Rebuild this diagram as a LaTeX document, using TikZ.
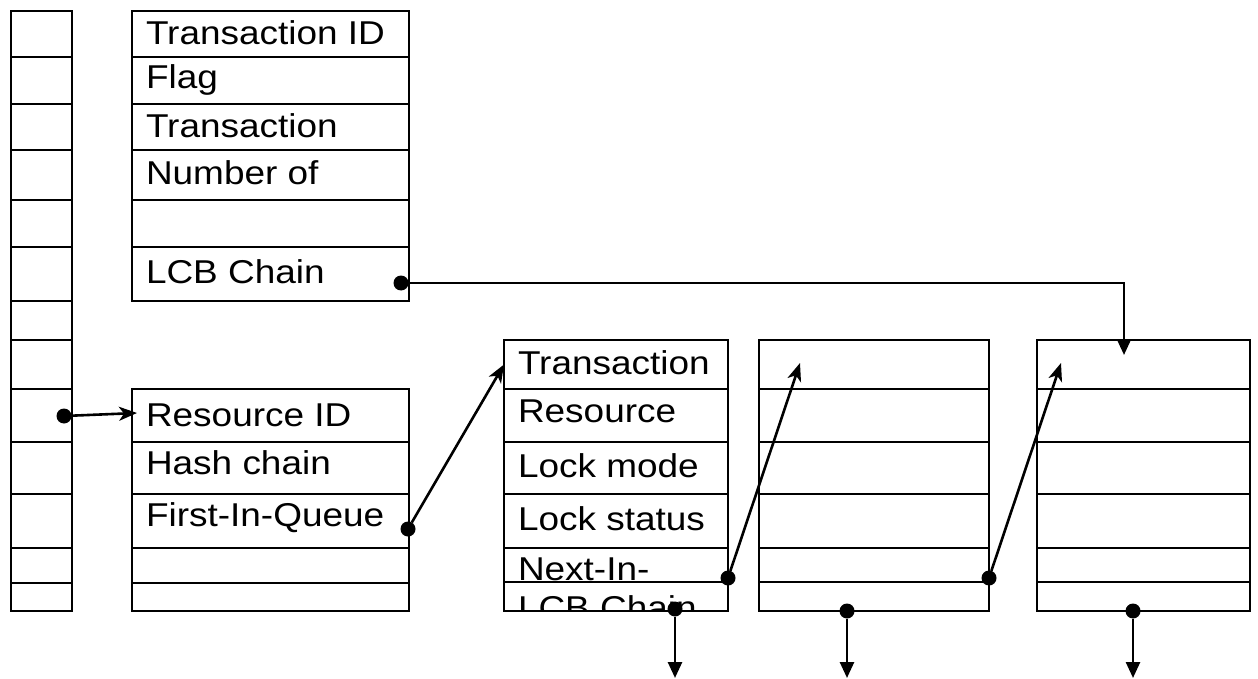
\documentclass[tikz,border=0pt]{standalone}
\usepackage{fontspec}
\setmainfont{Liberation Sans}[FakeStretch=1.12]
\usetikzlibrary{arrows.meta}

\tikzset{
  cell/.style={draw, line width=2.6pt, inner sep=0pt, outer sep=0pt, anchor=north west},
  lbl/.style={anchor=base west, inner sep=0pt, outer sep=0pt, font=\fontsize{33}{39}\selectfont},
  dot/.style={circle, fill=black, inner sep=0pt, outer sep=0pt, minimum size=15pt},
  link/.style={line width=2.6pt, -{Stealth[length=18pt,width=14pt,inset=5pt]}},
  drop/.style={line width=2.6pt, -{Triangle[length=16pt,width=14pt]}},
}

% a vertical stack of cells: prefix, left x, width, list of top/bottom edges
\newcommand\cellstack[4]{%
  \foreach \ya/\yb [count=\k] in {#4} {
    \node[cell, minimum width=#3pt, minimum height={(\yb-\ya)*1pt}] (#1\k) at (#2,\ya) {};
  }%
}

\begin{document}
\begin{tikzpicture}[x=1pt, y=-1pt]
\useasboundingbox (0,0) rectangle (1258,679);

% hash table
\cellstack{h}{11}{61}{11/57,57/104,104/150,150/200,200/247,247/301,301/340,340/389,389/442,442/494,494/548,548/583,583/611}

% transaction control block
\cellstack{t}{132}{277}{11/57,57/104,104/150,150/200,200/247,247/301}
\node[lbl] (t1txt) at (146,45)  {Transaction ID};
\node[lbl] (t2txt) at (146,89)  {Flag};
\node[lbl] (t3txt) at (146,138) {Transaction};
\node[lbl] (t4txt) at (146,185) {Number of};
\node[lbl] (t6txt) at (146,283) {LCB Chain};

% resource control block
\cellstack{r}{132}{277}{389/442,442/494,494/548,548/583,583/611}
\node[lbl] (r1txt) at (146,426) {Resource ID};
\node[lbl] (r2txt) at (146,474) {Hash chain};
\node[lbl] (r3txt) at (146,526) {First-In-Queue};

% lock control blocks
\cellstack{a}{504}{224}{340/389,389/442,442/494,494/548,548/582,582/611}
\cellstack{b}{759}{230}{340/389,389/442,442/494,494/548,548/582,582/611}
\cellstack{c}{1037}{213}{340/389,389/442,442/494,494/548,548/582,582/611}
\node[lbl] (a1txt) at (518,374) {Transaction};
\node[lbl] (a2txt) at (518,422) {Resource};
\node[lbl] (a3txt) at (518,477) {Lock mode};
\node[lbl] (a4txt) at (518,530) {Lock status};
\begin{scope}
  \clip (a1.north west) rectangle (a6.south east);
  \node[lbl] (a5txt) at (518,580) {Next-In-};
  \node[lbl] (a6txt) at (518,619) {LCB Chain};
\end{scope}

% pointers
\node[dot] (hd) at (64,416) {};
\coordinate (hdend) at (137,413);
\draw[link] (hd) -- (hdend);

\node[dot] (rq) at (408,529) {};
\draw[link] (rq) -- (a1.west);

\node[dot] (an) at (728,578) {};
\coordinate (bin) at (800,363);
\draw[link] (an) -- (bin);

\node[dot] (bn) at (989,578) {};
\coordinate (cin) at (1061,363);
\draw[link] (bn) -- (cin);

\node[dot] (tl) at (401,283) {};
\coordinate (ctop) at (1124,355);
\draw[drop] (tl) -| (ctop);

\node[dot] (ab) at (675,609) {};
\node[dot] (bb) at (847,611) {};
\node[dot] (cb) at (1133,611) {};
\coordinate (aend) at (675,678);
\coordinate (bend) at (847,678);
\coordinate (cend) at (1133,678);
\draw[drop] (ab) -- (aend);
\draw[drop] (bb) -- (bend);
\draw[drop] (cb) -- (cend);
\end{tikzpicture}
\end{document}
